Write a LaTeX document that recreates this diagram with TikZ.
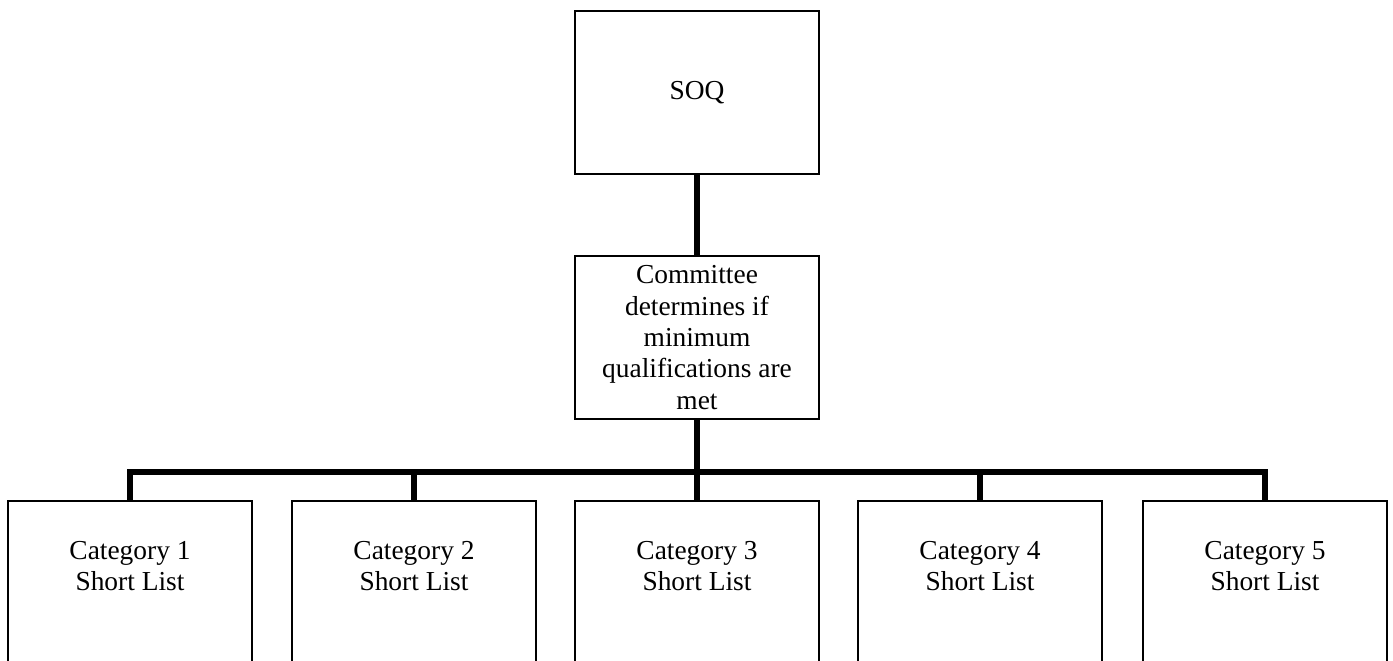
\documentclass[tikz,border=0pt]{standalone}
\usepackage{fontspec}
\setmainfont{Liberation Serif}
\usepackage{tikz}
\usetikzlibrary{positioning}
\tikzset{
  box/.style    ={draw, line width=0.9pt, minimum width=6.1cm, minimum height=4.075cm,
                  align=center, inner sep=0pt, font=\fontsize{19.5}{22.3}\selectfont},
  catbox/.style ={draw, line width=0.9pt, minimum width=6.1cm, minimum height=4.975cm, inner sep=0pt},
  cattxt/.style ={align=center, inner sep=0pt, font=\fontsize{19.5}{22.3}\selectfont},
  conn/.style   ={line width=3.6pt},
}
\begin{document}
\begin{tikzpicture}[x=0.025cm, y=-0.025cm]
  \useasboundingbox (0,0) rectangle (1393,660);
  \clip (0,0) rectangle (1393,660);
  % top of the chart
  \node[box] (soq) at (697,92.5) {SOQ};
  \node[box] (cmt) at (697,337.5) {Committee\\determines if\\minimum\\qualifications are\\met};
  % short lists
  \foreach \i/\x in {1/130, 2/414, 3/697, 4/980, 5/1265} {
    \node[catbox] (cat\i) at (\x,600.5) {};
    \node[cattxt, below=1.02cm of cat\i.north] (cat\i t) {Category \i\\Short List};
  }
  \coordinate (bar) at (697,472);
  % connectors
  \draw[conn] (soq) -- (cmt);
  \draw[conn] (cmt.south) -- (bar);
  \draw[conn] (cat1.north) |- (bar) -| (cat5.north);
  \foreach \i in {2,3,4}
    \draw[conn] (cat\i.north) -- (cat\i.north |- bar);
\end{tikzpicture}
\end{document}
